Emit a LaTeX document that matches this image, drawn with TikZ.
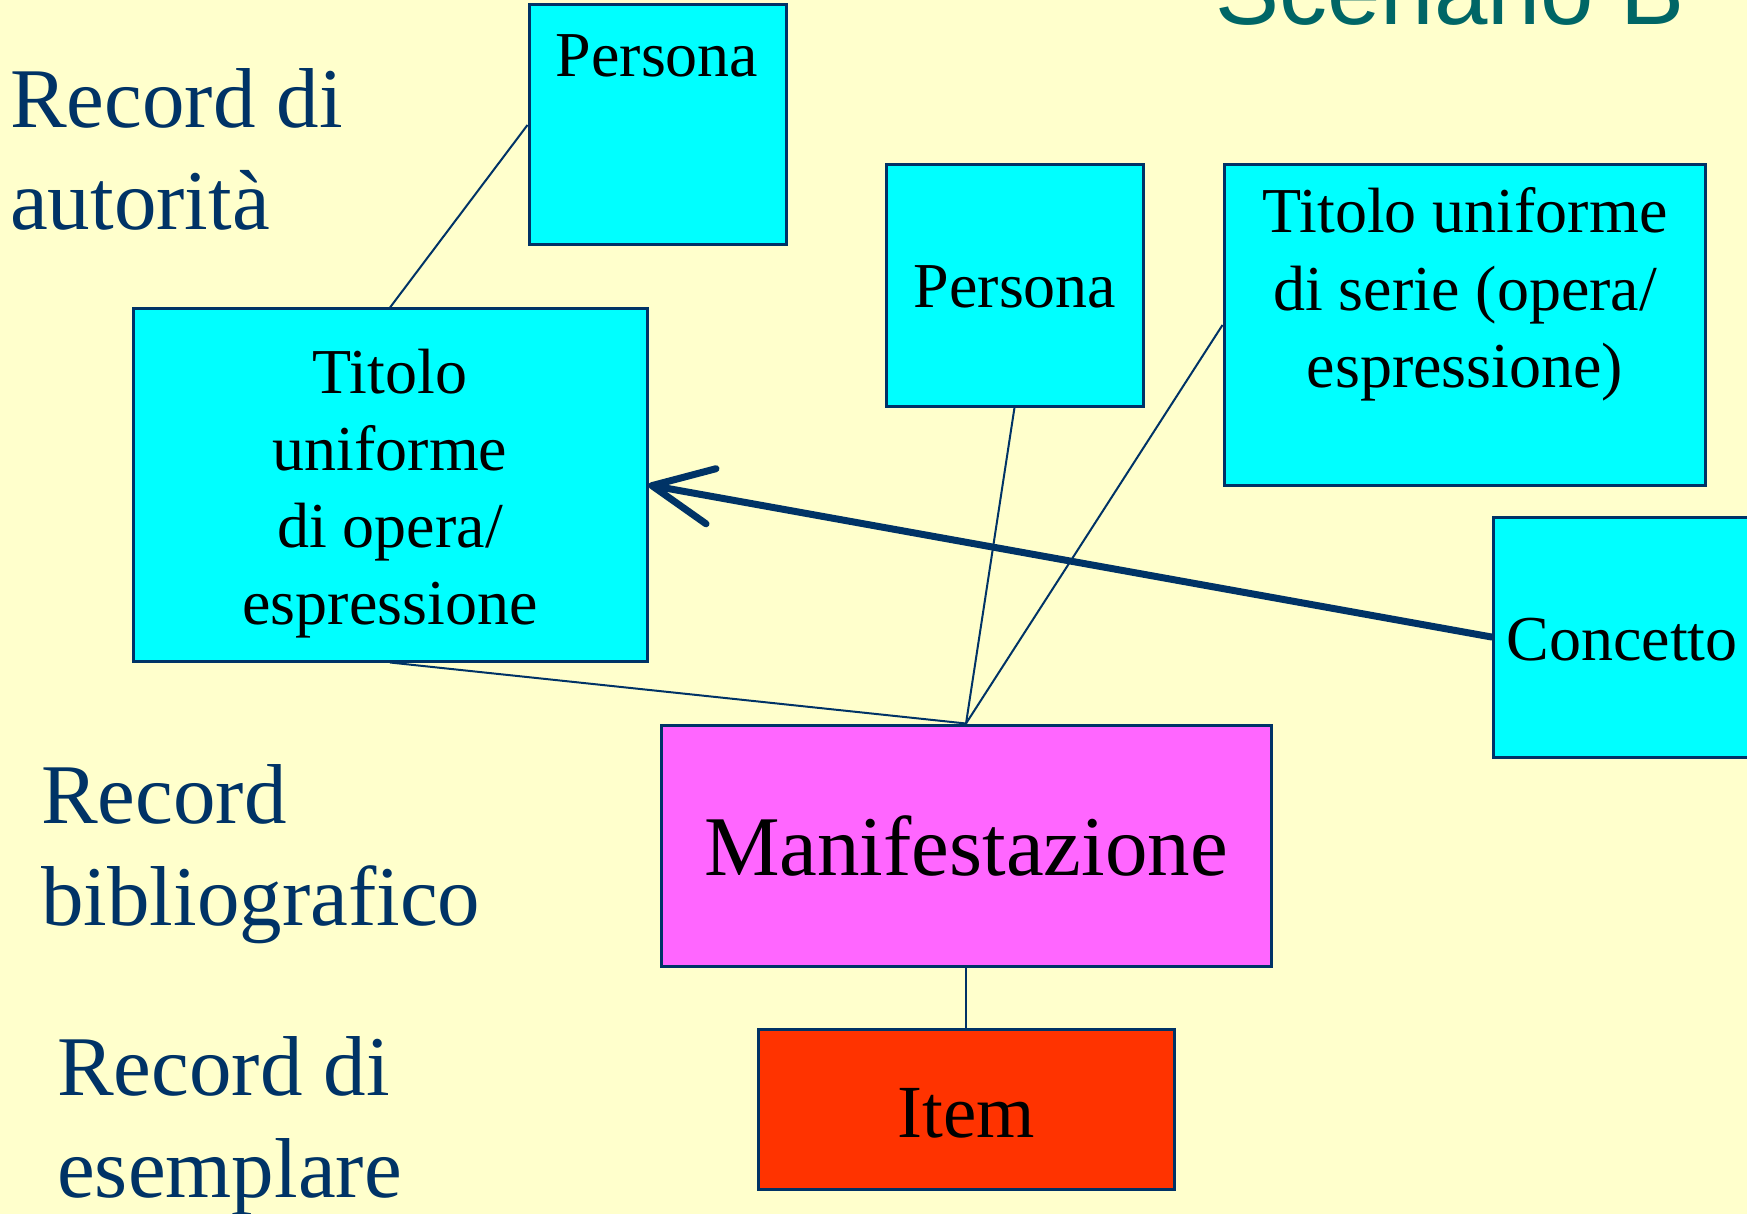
\documentclass[tikz,border=0pt]{standalone}
\usepackage{fontspec}
\setmainfont{Liberation Serif}
\newfontfamily\titlefont{Liberation Sans}
\usetikzlibrary{arrows.meta}
\definecolor{bgyellow}{HTML}{FFFFCC}
\definecolor{boxcyan}{HTML}{00FFFF}
\definecolor{boxmagenta}{HTML}{FF66FF}
\definecolor{boxred}{HTML}{FF3300}
\definecolor{navy}{HTML}{003366}
\definecolor{teal}{HTML}{006666}
\tikzset{
  box/.style={rectangle, draw=navy, line width=3pt, inner sep=0pt},
  cyanbox/.style={box, fill=boxcyan},
  boxtext/.style={inner sep=0pt, align=center, text=black, anchor=base},
  sidelabel/.style={inner sep=0pt, align=left, text=navy, anchor=base west, font=\fontsize{85}{102}\selectfont},
  link/.style={draw=navy, line width=2pt},
  bigarrow/.style={draw=navy, line width=7pt, line cap=round, -{Straight Barb[length=60pt,width=56pt,line cap=round,line join=round]}}
}
\begin{document}
\begin{tikzpicture}[x=1pt,y=-1pt]
\fill[bgyellow] (0,0) rectangle (1747,1214);
\useasboundingbox (0,0) rectangle (1747,1214);

% title
\node[inner sep=0pt, anchor=base west, text=teal, font=\titlefont\fontsize{96}{115}\selectfont] (title) at (1215,25) {Scenario B};

% boxes
\node[cyanbox, minimum width=257pt, minimum height=240pt] (p1) at (657.5,125) {};
\node[cyanbox, minimum width=514pt, minimum height=352pt] (tit) at (390,485) {};
\node[cyanbox, minimum width=257pt, minimum height=241pt] (p2) at (1014.5,285.5) {};
\node[cyanbox, minimum width=481pt, minimum height=320pt] (serie) at (1464.5,325) {};
\node[cyanbox, minimum width=258pt, minimum height=240pt] (conc) at (1622,637) {};
\node[box, fill=boxmagenta, minimum width=610pt, minimum height=241pt] (manif) at (966,845.5) {};
\node[box, fill=boxred, minimum width=416pt, minimum height=160pt] (item) at (966,1109) {};

% box texts (anchor=base sits on the last line's baseline)
\node[boxtext, font=\fontsize{64}{77}\selectfont] (p1t) at (657,77) {Persona};
\node[boxtext, font=\fontsize{64}{77}\selectfont] (titt) at (390,624) {Titolo\\uniforme\\di opera/\\espressione};
\node[boxtext, font=\fontsize{64}{77}\selectfont] (p2t) at (1015,308) {Persona};
\node[boxtext, font=\fontsize{64}{77}\selectfont] (seriet) at (1465,387) {Titolo uniforme\\di serie (opera/\\espressione)};
\node[boxtext, font=\fontsize{64}{77}\selectfont] (conct) at (1622,660) {Concetto};
\node[boxtext, font=\fontsize{85}{102}\selectfont] (maniftt) at (966,875) {Manifestazione};
\node[boxtext, font=\fontsize{75}{90}\selectfont] (itemt) at (966,1137) {Item};

% side labels
\node[sidelabel] (lab1) at (10,230) {Record di\\autorità};
\node[sidelabel] (lab2) at (41,925) {Record\\bibliografico};
\node[sidelabel] (lab3) at (57,1197) {Record di\\esemplare};

% connectors
\draw[link] (p1.west) -- (tit.north);
\draw[link] (p2.south) -- (manif.north);
\draw[link] (serie.west) -- (manif.north);
\draw[link] (tit.south) -- (manif.north);
\draw[link] (manif.south) -- (item.north);
\draw[bigarrow] (conc.west) -- (tit.east);
\end{tikzpicture}
\end{document}
